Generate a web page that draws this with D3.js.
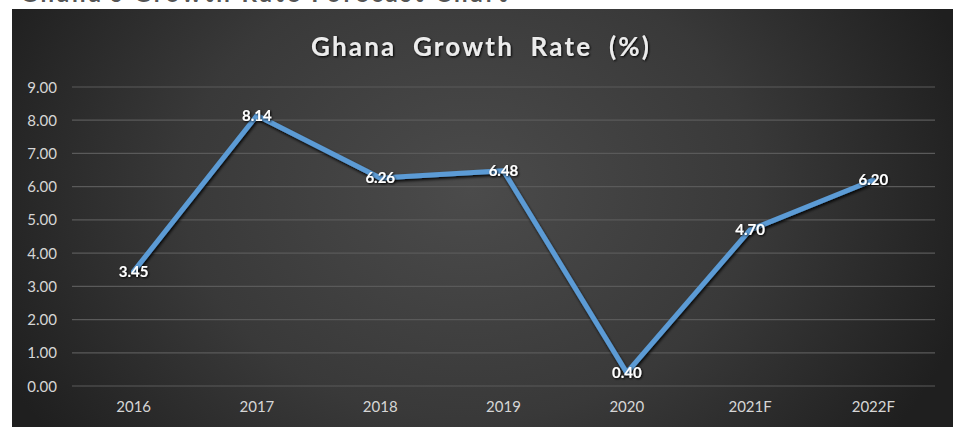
<!DOCTYPE html>
<html>
<head>
<meta charset="utf-8">
<script src="https://cdn.jsdelivr.net/npm/d3@7/dist/d3.min.js"></script>
<style>
html,body{margin:0;padding:0;background:#fff;}
svg{display:block;}
</style>
</head>
<body>
<svg id="chart" width="960" height="427"></svg>
<script>
const categories = ["2016","2017","2018","2019","2020","2021F","2022F"];
const growthRate = [3.45, 8.14, 6.26, 6.48, 0.40, 4.70, 6.20];
const yTicks = [0,1,2,3,4,5,6,7,8,9];
const titleText = "Ghana Growth Rate (%)";
const headerText = "Ghana's Growth Rate Forecast Chart";

const svg = d3.select("#chart");
const panel = {x0: 12, y0: 9, x1: 953, y1: 427};
const plot = {left: 72, right: 935, top: 87, bottom: 386};

const defs = svg.append("defs");
const grad = defs.append("radialGradient").attr("id","bg")
  .attr("gradientUnits","userSpaceOnUse")
  .attr("cx", 470).attr("cy", 190).attr("r", 520)
  .attr("gradientTransform","translate(470,190) scale(1,0.8) translate(-470,-190)");
grad.append("stop").attr("offset","0%").attr("stop-color","#4b4b4b");
grad.append("stop").attr("offset","55%").attr("stop-color","#393939");
grad.append("stop").attr("offset","100%").attr("stop-color","#1f1f1f");

const shadow = defs.append("filter").attr("id","lshadow")
  .attr("x","-10%").attr("y","-10%").attr("width","120%").attr("height","120%");
shadow.append("feGaussianBlur").attr("in","SourceAlpha").attr("stdDeviation",1.6).attr("result","b");
shadow.append("feOffset").attr("in","b").attr("dx",1).attr("dy",1.5).attr("result","o");
shadow.append("feComponentTransfer").attr("in","o").attr("result","o2")
  .append("feFuncA").attr("type","linear").attr("slope",0.9);
const m = shadow.append("feMerge");
m.append("feMergeNode").attr("in","o2");
m.append("feMergeNode").attr("in","SourceGraphic");

const tshadow = defs.append("filter").attr("id","tshadow")
  .attr("x","-20%").attr("y","-40%").attr("width","140%").attr("height","180%");
tshadow.append("feGaussianBlur").attr("in","SourceAlpha").attr("stdDeviation",1.2).attr("result","b");
tshadow.append("feOffset").attr("in","b").attr("dx",0.5).attr("dy",1).attr("result","o");
const tm = tshadow.append("feMerge");
tm.append("feMergeNode").attr("in","o");
tm.append("feMergeNode").attr("in","SourceGraphic");

// header text, cut at the top edge as in the reference
svg.append("text")
  .attr("x", 20).attr("y", 1.5)
  .attr("font-family","Lato, sans-serif").attr("font-weight","bold")
  .attr("font-size", 24).attr("fill","#555")
  .attr("letter-spacing", 3)
  .text(headerText);

svg.append("rect")
  .attr("x", panel.x0).attr("y", panel.y0)
  .attr("width", panel.x1-panel.x0).attr("height", panel.y1-panel.y0)
  .attr("fill","url(#bg)");

const x = d3.scaleBand().domain(categories).range([plot.left, plot.right]);
const y = d3.scaleLinear().domain([0, 9]).range([plot.bottom, plot.top]);

// gridlines
svg.append("g").selectAll("line").data(yTicks).join("line")
  .attr("x1", plot.left).attr("x2", plot.right)
  .attr("y1", d => y(d)).attr("y2", d => y(d))
  .attr("stroke", "#5a5a5a").attr("stroke-width", 1.2);

// y axis
const yAxis = svg.append("g").attr("transform", `translate(${plot.left - 15},0)`)
  .call(d3.axisLeft(y).tickValues(yTicks).tickFormat(d3.format(".2f")).tickSize(0).tickPadding(0));
yAxis.select(".domain").remove();
yAxis.selectAll("text").attr("font-family","Lato, sans-serif").attr("font-size",15)
  .attr("fill","#d6d6d6").attr("dy","0.34em");

// x axis
const xAxis = svg.append("g").attr("transform", `translate(0,${plot.bottom})`)
  .call(d3.axisBottom(x).tickSize(0).tickPadding(15));
xAxis.select(".domain").remove();
xAxis.selectAll("text").attr("font-family","Lato, sans-serif").attr("font-size",15)
  .attr("fill","#d6d6d6");

// title
svg.append("text")
  .attr("x", 481).attr("y", 56)
  .attr("text-anchor","middle")
  .attr("font-family","Lato, sans-serif").attr("font-weight","bold")
  .attr("font-size", 26).attr("fill","#ececec")
  .attr("letter-spacing", 2.2).attr("word-spacing", 8)
  .attr("filter","url(#tshadow)")
  .text(titleText);

// line
const line = d3.line()
  .x((d,i) => x(categories[i]) + x.bandwidth()/2)
  .y(d => y(d));
svg.append("path").datum(growthRate)
  .attr("d", line)
  .attr("fill","none")
  .attr("stroke","#5b9bd5").attr("stroke-width",5)
  .attr("stroke-linejoin","round").attr("stroke-linecap","round")
  .attr("filter","url(#lshadow)");

// data labels
svg.append("g").selectAll("text").data(growthRate).join("text")
  .attr("x", (d,i) => x(categories[i]) + x.bandwidth()/2)
  .attr("y", d => y(d))
  .attr("dy","0.36em")
  .attr("text-anchor","middle")
  .attr("font-family","Lato, sans-serif").attr("font-weight","bold")
  .attr("font-size",15).attr("fill","#ffffff")
  .attr("filter","url(#tshadow)")
  .text(d => d3.format(".2f")(d));
</script>
</body>
</html>
